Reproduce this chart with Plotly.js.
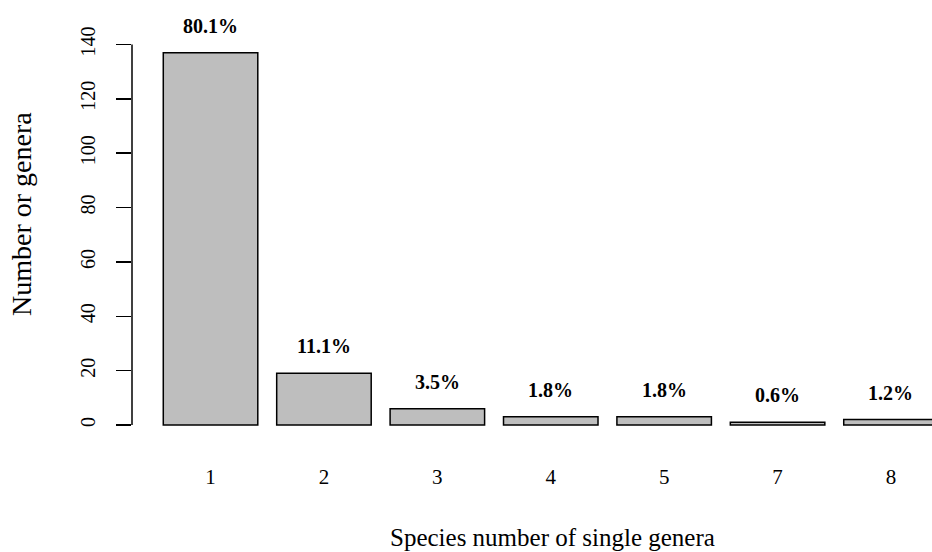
<!DOCTYPE html>
<html>
<head>
<meta charset="utf-8">
<script src="https://cdn.plot.ly/plotly-3.0.1.min.js"></script>
<style>html,body{margin:0;padding:0;background:#fff;overflow:hidden;}</style>
</head>
<body>
<div id="chart" style="width:932px;height:552px;"></div>
<script>
const categories = ["1", "2", "3", "4", "5", "7", "8"];
const counts = [137, 19, 6, 3, 3, 1, 2];
const yTicks = [0, 20, 40, 60, 80, 100, 120, 140];

const total = counts.reduce((a, b) => a + b, 0);
const percentLabels = counts.map(v => (v / total * 100).toFixed(1) + "%");
// R barplot positions: width 1, space 0.2
const xpos = categories.map((c, i) => 0.7 + 1.2 * i);

const serif = "Liberation Serif, Times New Roman, serif";

const trace = {
  type: "bar",
  x: xpos,
  y: counts,
  width: 1,
  marker: {color: "#BEBEBE", line: {color: "#000", width: 1.5}},
  hoverinfo: "skip"
};

const annotations = xpos.map((x, i) => ({
  x: x, y: counts[i], xref: "x", yref: "y",
  text: "<b>" + percentLabels[i] + "</b>",
  showarrow: false, yanchor: "bottom", yshift: 14,
  font: {family: serif, size: 20, color: "#000"}
}));
annotations.push({
  x: 0.525, y: -0.2256, xref: "paper", yref: "paper",
  text: "Species number of single genera", showarrow: false,
  xanchor: "center", yanchor: "middle",
  font: {family: serif, size: 25, color: "#000"}
});
annotations.push({
  x: -0.1375, y: 0.5256, xref: "paper", yref: "paper",
  text: "Number or genera", showarrow: false, textangle: -90,
  xanchor: "center", yanchor: "middle",
  font: {family: serif, size: 28, color: "#000"}
});

const layout = {
  width: 932, height: 552,
  margin: {l: 132, r: 0, t: 10, b: 112},
  paper_bgcolor: "#fff", plot_bgcolor: "#fff",
  showlegend: false,
  xaxis: {
    range: [-0.131, 8.334],
    tickmode: "array", tickvals: xpos, ticktext: categories,
    ticks: "", showline: false, showgrid: false, zeroline: false,
    ticklabelstandoff: 22,
    tickfont: {family: serif, size: 21, color: "#000"}
  },
  yaxis: {
    range: [-5.52, 152.7],
    tickmode: "array", tickvals: yTicks,
    ticks: "outside", ticklen: 15, tickwidth: 1.5, tickcolor: "#000",
    tickangle: -90, ticklabelstandoff: 13,
    showline: false, showgrid: false, zeroline: false,
    tickfont: {family: serif, size: 20, color: "#000"}
  },
  shapes: [{
    type: "line", xref: "paper", yref: "y",
    x0: 0, x1: 0, y0: yTicks[0], y1: yTicks[yTicks.length - 1],
    line: {color: "#000", width: 1.5}
  }],
  annotations: annotations
};

Plotly.newPlot("chart", [trace], layout, {displayModeBar: false, staticPlot: true});
</script>
</body>
</html>
